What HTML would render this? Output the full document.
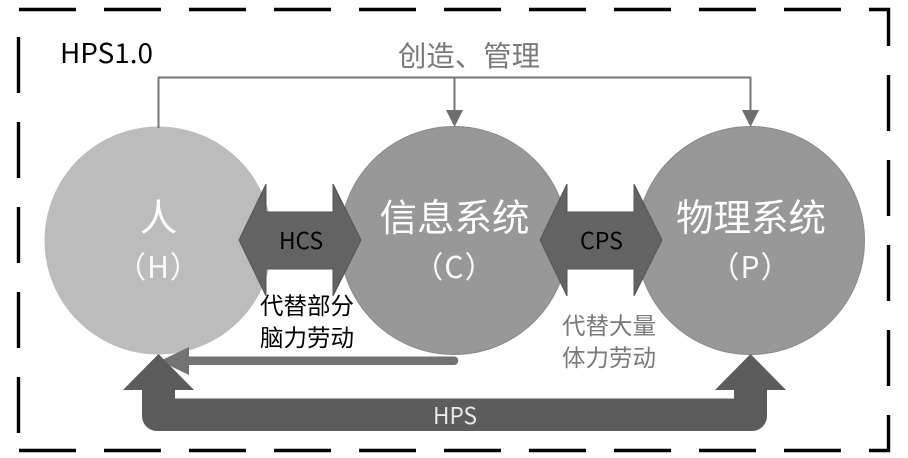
<!DOCTYPE html>
<html><head><meta charset="utf-8">
<style>
html,body{margin:0;padding:0;background:#fff;width:908px;height:458px;overflow:hidden}
svg{display:block}
text{font-family:"Noto Sans CJK SC","Liberation Sans",sans-serif}
</style></head><body>
<svg width="908" height="458" viewBox="0 0 908 458" xmlns="http://www.w3.org/2000/svg">
<g stroke="#000" stroke-width="3.4" fill="none">
<path d="M19 9.5H76M104 9.5H161M189 9.5H246M274 9.5H331M359 9.5H416M444 9.5H501M529 9.5H586M614 9.5H671M699 9.5H756M784 9.5H841M869 9.5H888.5V46"/>
<path d="M888.5 75V131M888.5 160V216M888.5 245V301M888.5 330V386M888.5 415V450.5H869"/>
<path d="M841 450.5H784M756 450.5H699M671 450.5H614M586 450.5H529M501 450.5H444M416 450.5H359M331 450.5H274M246 450.5H189M161 450.5H104M76 450.5H19"/>
<path d="M18.5 37V93M18.5 122V178M18.5 207V263M18.5 292V348M18.5 377V433"/>
</g>
<circle cx="158.5" cy="240.5" r="114" fill="#bcbcbc"/>
<circle cx="454" cy="240.5" r="114" fill="#989898" stroke="#8a8a8a"/>
<circle cx="750.5" cy="240.5" r="114" fill="#989898" stroke="#8a8a8a"/>
<path d="M158.5 128V77.5H750.5V112M454.5 77.5V112" fill="none" stroke="#757575" stroke-width="2"/>
<path d="M446 110H463L454.5 127Z M742 110H759L750.5 127Z" fill="#6e6e6e"/>
<path d="M239 240L266 184V212H333V184L361 240L333 296V269H266V296Z" fill="#636363" stroke="#555" stroke-width="1"/>
<path d="M540 240L567 184V212H634V184L662 240L634 296V269H567V296Z" fill="#636363" stroke="#555" stroke-width="1"/>
<path d="M454 356.5V365H189V375L160 361L189 347V356.5Z" fill="#737373"/>
<circle cx="454" cy="360.7" r="4.3" fill="#737373"/>
<path d="M158.5 354L194 390H175V398.5H734V390H715L750.5 354L786 390H767V416A15 15 0 0 1 752 431H157A15 15 0 0 1 142 416V390H123Z" fill="#5c5c5c"/>
<text x="60" y="63" font-size="27" fill="#000" textLength="93" lengthAdjust="spacingAndGlyphs">HPS1.0</text>
<text x="398" y="66" font-size="28.4" fill="#7a7a7a">创造、管理</text>
<text x="158.5" y="231" font-size="37.5" fill="#fff" text-anchor="middle">人</text>
<text x="158.5" y="278" font-size="30" fill="#fafafa" text-anchor="middle" letter-spacing="1">（H）</text>
<text x="454.5" y="231" font-size="37.5" fill="#fff" text-anchor="middle">信息系统</text>
<text x="454.5" y="278" font-size="30" fill="#fafafa" text-anchor="middle" letter-spacing="1">（C）</text>
<text x="751" y="231" font-size="37.5" fill="#fff" text-anchor="middle">物理系统</text>
<text x="750.5" y="278" font-size="30" fill="#fafafa" text-anchor="middle" letter-spacing="1">（P）</text>
<text x="279" y="249" font-size="23" fill="#000" textLength="44" lengthAdjust="spacingAndGlyphs">HCS</text>
<text x="580" y="249" font-size="23" fill="#000" textLength="43" lengthAdjust="spacingAndGlyphs">CPS</text>
<text x="260" y="314" font-size="23.5" fill="#000">代替部分</text>
<text x="260" y="346" font-size="23.5" fill="#000">脑力劳动</text>
<text x="562" y="334" font-size="23.5" fill="#7a7a7a">代替大量</text>
<text x="562" y="366" font-size="23.5" fill="#7a7a7a">体力劳动</text>
<text x="433" y="424" font-size="23" fill="#e8e8e8" textLength="44" lengthAdjust="spacingAndGlyphs">HPS</text>
</svg>
</body></html>
